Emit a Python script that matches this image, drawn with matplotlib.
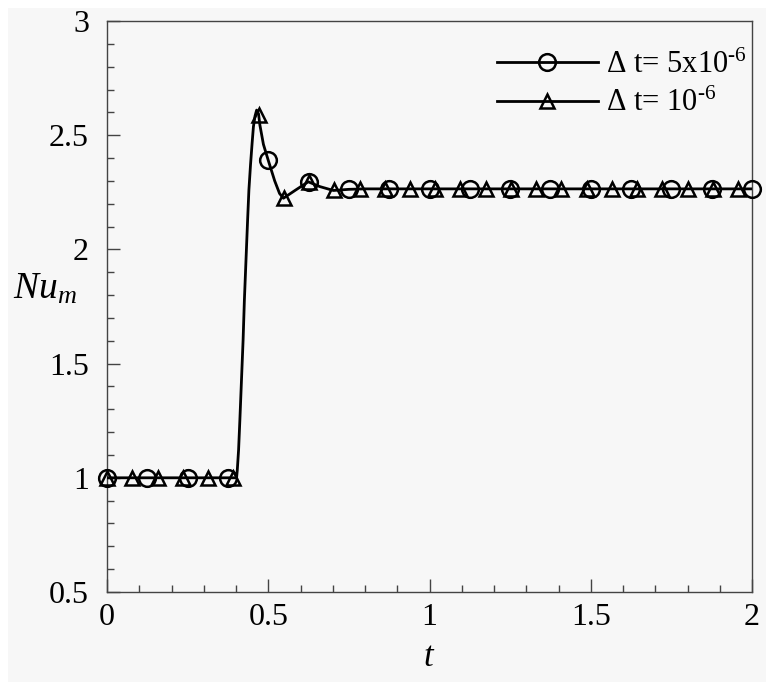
import matplotlib
matplotlib.use("Agg")
import matplotlib.pyplot as plt
from matplotlib.patches import Rectangle
from matplotlib.lines import Line2D
from matplotlib.ticker import MultipleLocator

plt.rcParams['font.family'] = ['Liberation Serif', 'DejaVu Serif']
plt.rcParams['mathtext.fontset'] = 'custom'
plt.rcParams['mathtext.rm'] = 'Liberation Serif'
plt.rcParams['mathtext.it'] = 'Liberation Serif:italic'

# mean Nusselt number history (line shared by both time steps)
t_curve = [0.0, 0.390, 0.398, 0.402, 0.404, 0.408, 0.412, 0.417, 0.422,
           0.426, 0.431, 0.436, 0.440, 0.445, 0.450, 0.454, 0.459, 0.464,
           0.470, 0.474, 0.485, 0.500, 0.520, 0.535, 0.547,
           0.585, 0.624, 0.660, 0.702, 0.750, 0.800, 2.0]
nu_curve = [1.0, 1.0, 1.0, 1.003, 1.034, 1.122, 1.253, 1.428, 1.603,
            1.778, 1.954, 2.129, 2.260, 2.370, 2.466, 2.537, 2.584, 2.610,
            2.593, 2.545, 2.46, 2.39, 2.30, 2.245, 2.224,
            2.26, 2.296, 2.275, 2.258, 2.263, 2.265, 2.265]

# symbols, dt = 5e-6
t_circ = [0.0, 0.125, 0.25, 0.375, 0.5, 0.625, 0.75, 0.875, 1.0, 1.125,
          1.25, 1.375, 1.5, 1.625, 1.75, 1.875, 2.0]
nu_circ = [1.0, 1.0, 1.0, 1.0, 2.39, 2.295, 2.263, 2.265, 2.265, 2.265,
           2.265, 2.265, 2.265, 2.265, 2.265, 2.265, 2.265]

# symbols, dt = 1e-6
t_tri = [0.0, 0.078, 0.157, 0.235, 0.313, 0.392, 0.470, 0.548, 0.626, 0.705,
         0.783, 0.861, 0.940, 1.018, 1.096, 1.175, 1.253, 1.331, 1.409, 1.488,
         1.566, 1.644, 1.722, 1.801, 1.879, 1.957]
nu_tri = [1.0, 1.0, 1.0, 1.0, 1.0, 1.0, 2.59, 2.225, 2.295, 2.26,
          2.265, 2.265, 2.265, 2.265, 2.265, 2.265, 2.265, 2.265, 2.265, 2.265,
          2.265, 2.265, 2.265, 2.265, 2.265, 2.265]

labels = ["\u0394 t= 5x10$^{\\text{-6}}$", "\u0394 t= 10$^{\\text{-6}}$"]

W, H = 766, 682
fig = plt.figure(figsize=(W / 100, H / 100), dpi=100, facecolor='white')
fig.patches.append(Rectangle((8 / W, 0), 1 - 8 / W, 1 - 8 / H,
                             transform=fig.transFigure, facecolor='#f7f7f7',
                             edgecolor='none', zorder=-10))

ax = fig.add_axes([107 / W, 1 - 592 / H, (752 - 107) / W, (592 - 21) / H])
ax.set_facecolor('#f7f7f7')

ax.plot(t_curve, nu_curve, color='black', lw=2.0, solid_joinstyle='round', zorder=3)
ax.plot(t_circ, nu_circ, ls='none', marker='o', ms=12, mfc='none', mec='black',
        mew=1.8, zorder=4, clip_on=False)
ax.plot(t_tri, nu_tri, ls='none', marker='^', ms=10, mfc='none', mec='black',
        mew=1.8, zorder=4, clip_on=False)

ax.set_xlim(0, 2)
ax.set_ylim(0.5, 3)
ax.xaxis.set_minor_locator(MultipleLocator(0.1))
ax.yaxis.set_minor_locator(MultipleLocator(0.1))
ax.set_xticks([0, 0.5, 1, 1.5, 2])
ax.set_xticklabels(['0', '0.5', '1', '1.5', '2'])
ax.set_yticks([0.5, 1, 1.5, 2, 2.5, 3])
ax.set_yticklabels(['0.5', '1', '1.5', '2', '2.5', '3'])

ax.tick_params(which='both', direction='in', top=False, right=False,
               color='#444444', width=1.0, labelsize=23)
ax.tick_params(which='major', length=9.5)
ax.tick_params(which='minor', length=5)
ax.tick_params(axis='x', pad=8)
ax.tick_params(axis='y', pad=13)
for s in ax.spines.values():
    s.set_color('#444444')
    s.set_linewidth(1.0)

ax.text(-0.145, 0.53, '$Nu_m$', transform=ax.transAxes, fontsize=27,
        ha='left', va='center')
ax.text(1.0, -0.115, '$t$', transform=ax.get_xaxis_transform(),
        fontsize=25, ha='center', va='center')

handles = [Line2D([], [], color='black', lw=2.0, marker='o', ms=12, mfc='none',
                  mec='black', mew=1.8),
           Line2D([], [], color='black', lw=2.0, marker='^', ms=10, mfc='none',
                  mec='black', mew=1.8)]
ax.legend(handles, labels, loc='upper right', bbox_to_anchor=(1.02, 0.98),
          frameon=False, fontsize=22, handlelength=3.3, handletextpad=0.26,
          labelspacing=0.3, borderaxespad=0.2)

fig.savefig('out.png', dpi=100, facecolor='white')
